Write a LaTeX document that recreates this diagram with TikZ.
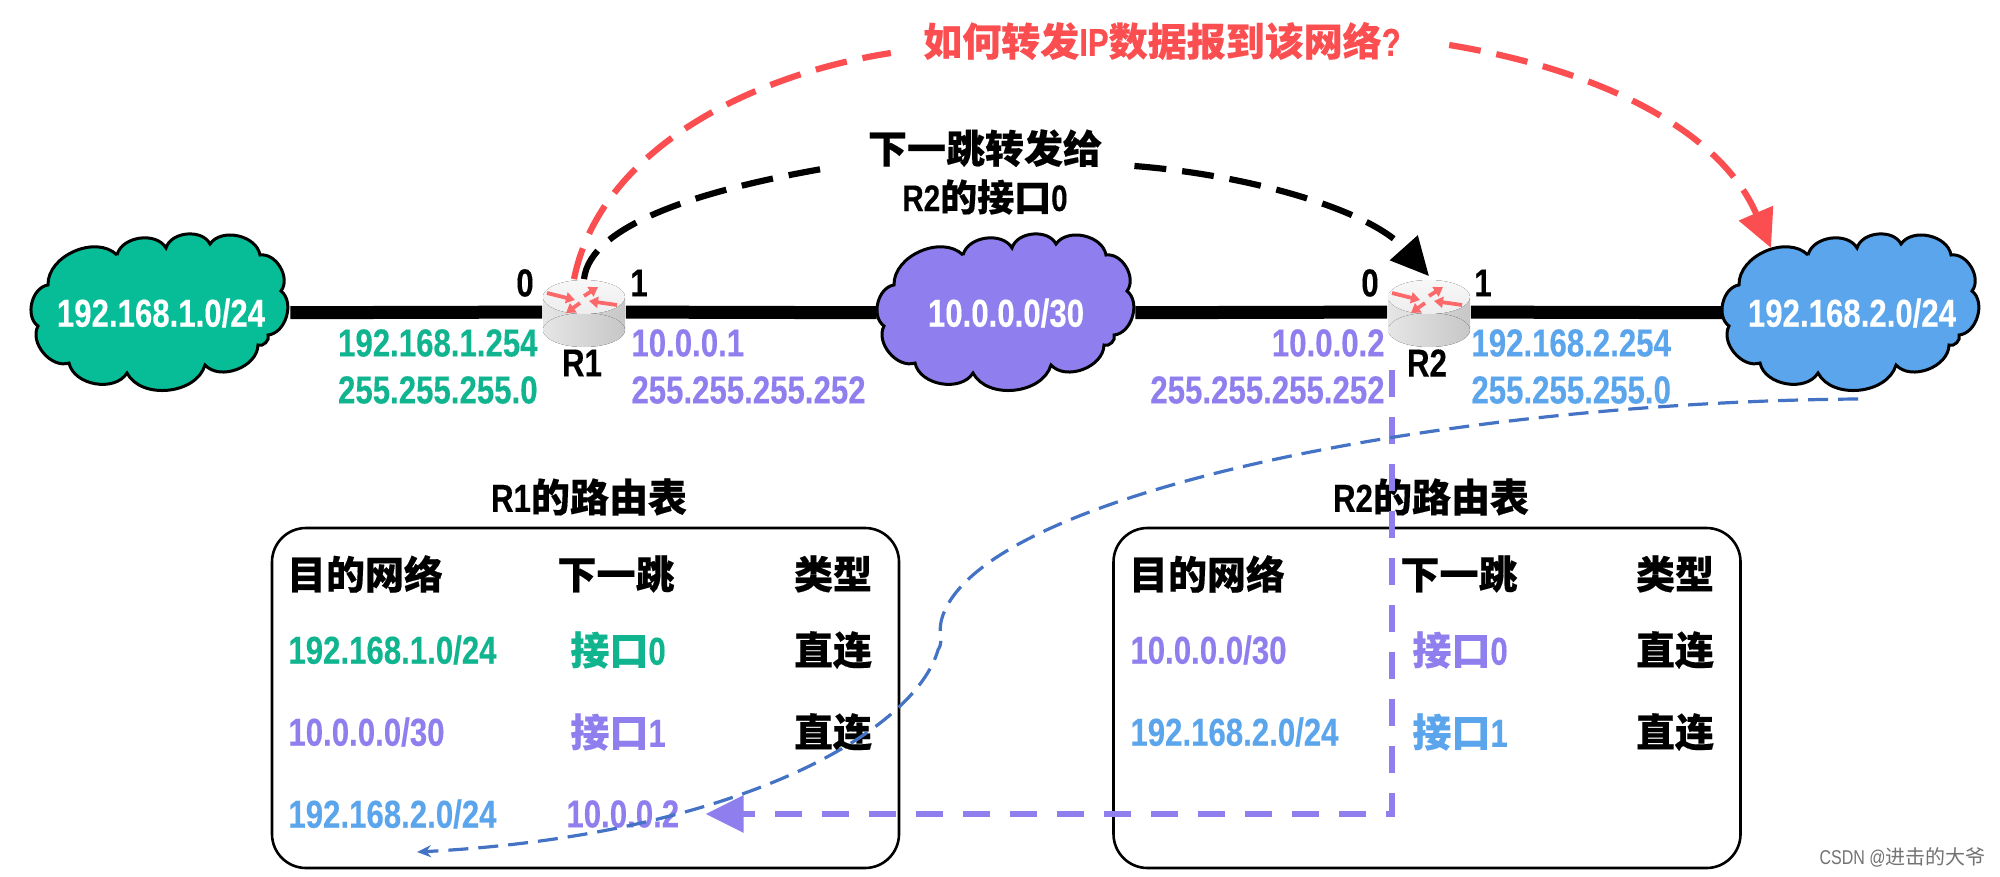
\documentclass[tikz,border=0pt]{standalone}
\usepackage{fontspec}
\setmainfont[FakeStretch=0.8,BoldFeatures={FakeBold=0.25}]{Liberation Sans}
\newfontfamily\cjkf[BoldFeatures={FakeBold=0.35}]{Noto Sans CJK SC}
\newcommand{\Cn}[1]{{\cjkf #1}}
\usetikzlibrary{arrows.meta,backgrounds}
\definecolor{gr}{HTML}{06BD98}
\definecolor{grt}{HTML}{10B58F}
\definecolor{pu}{HTML}{8F7FEE}
\definecolor{bl}{HTML}{5AA5EC}
\definecolor{dbl}{HTML}{4472C4}
\definecolor{rd}{HTML}{FB4E50}
\tikzset{
  txt/.style={inner sep=0pt,font=\fontsize{19.5}{23}\selectfont\bfseries,align=center},
  netnode/.style={txt,text=white,minimum width=129pt,minimum height=77pt},
  routernode/.style={inner sep=0pt,minimum width=41.5pt,minimum height=32.5pt},
  wire/.style={line width=6.5pt},
  cloudline/.style={draw=black,line width=1.5pt},
  tablebox/.style={draw=black,line width=1.3pt,rounded corners=17pt},
  bigdash/.style={line width=3.1pt,dash pattern=on 16pt off 8pt},
  tip/.style={-{Triangle[length=19pt,width=18pt]}}
}
\newcommand{\cloudat}[2]{%
  \begin{scope}[xshift=#1*0.5pt]
  \draw[cloudline,fill=#2,bend left=68] (117,255) to (166,248) to (210,244) to (260,255) to (281,291) to (268,335) to (258,345) to (205,365) to (127,373) to (69,363) to (38,326) to (48,285) to (117,255);
  \end{scope}}
\newcommand{\routerdraw}[1]{%
  \begin{scope}[xshift=#1*0.5pt]
  \fill[left color=black!10,right color=black!22] (-41,297) rectangle (41,330);
  \fill[left color=black!10,right color=black!22] (0,330) ellipse[x radius=41,y radius=17];
  \fill[top color=black!3,bottom color=black!7] (0,297) ellipse[x radius=41,y radius=17];
  \foreach \a/\b/\c/\d in {-37/293/-9/300,0/296/14/287,33/305/5/301,-4/303/-18/313}
    \draw[rd!85!white,line width=1.9pt,-{Triangle[length=4.5pt,width=5.5pt]}] (\a,\b) -- (\c,\d);
  \end{scope}}
\begin{document}
\begin{tikzpicture}[x=0.5pt,y=-0.5pt]
\useasboundingbox (0,0) rectangle (2000,877);
% network and router nodes
\node[netnode] (c1) at (161,313) {192.168.1.0/24};
\node[netnode] (c2) at (1006,313) {10.0.0.0/30};
\node[netnode] (c3) at (1852,313) {192.168.2.0/24};
\node[routernode] (r1) at (584,312) {};
\node[routernode] (r2) at (1429,312) {};
% interface numbers
\node[txt] (p10) at (525,283) {0};
\node[txt] (p11) at (639,283) {1};
\node[txt] (p20) at (1370,283) {0};
\node[txt] (p21) at (1483,283) {1};
\node[txt] (n1) at (582,363) {R1};
\node[txt] (n2) at (1427,363) {R2};
% addresses
\node[txt,text=grt,anchor=east] (a1) at (538,343) {192.168.1.254};
\node[txt,text=grt,anchor=east] (a2) at (538,390) {255.255.255.0};
\node[txt,text=pu,anchor=west] (a3) at (631,343) {10.0.0.1};
\node[txt,text=pu,anchor=west] (a4) at (631,390) {255.255.255.252};
\node[txt,text=pu,anchor=east] (a5) at (1385,343) {10.0.0.2};
\node[txt,text=pu,anchor=east] (a6) at (1385,390) {255.255.255.252};
\node[txt,text=bl,anchor=west] (a7) at (1471,343) {192.168.2.254};
\node[txt,text=bl,anchor=west] (a8) at (1471,390) {255.255.255.0};
% top labels
\node[txt,text=rd] (q) at (1162,41) {\Cn{如何转发}IP\Cn{数据报到该网络}?};
\node[txt] (nh) at (985,172) {\Cn{下一跳转发给}\\[1pt]{\fontsize{18.5}{20}\selectfont R2\Cn{的接口}0}};
% tables
\node[tablebox,minimum width=313.5pt,minimum height=170pt] (t1) at (585.5,698) {};
\node[tablebox,minimum width=313.5pt,minimum height=170pt] (t2) at (1427,698) {};
\node[txt] (t1t) at (589,497) {R1\Cn{的路由表}};
\node[txt] (t2t) at (1431,497) {R2\Cn{的路由表}};
\node[txt] (h11) at (365,574) {\Cn{目的网络}};
\node[txt] (h12) at (616,574) {\Cn{下一跳}};
\node[txt] (h13) at (833,574) {\Cn{类型}};
\node[txt] (h21) at (1207,574) {\Cn{目的网络}};
\node[txt] (h22) at (1459,574) {\Cn{下一跳}};
\node[txt] (h23) at (1675,574) {\Cn{类型}};
\node[txt,text=grt,anchor=west] (d11) at (288,650) {192.168.1.0/24};
\node[txt,text=pu,anchor=west] (d12) at (288,732) {10.0.0.0/30};
\node[txt,text=bl,anchor=west] (d13) at (288,814) {192.168.2.0/24};
\node[txt,text=grt,anchor=west] (i11) at (570,650) {\Cn{接口}0};
\node[txt,text=pu,anchor=west] (i12) at (570,732) {\Cn{接口}1};
\node[txt,text=pu,anchor=west] (i13) at (566,814) {10.0.0.2};
\node[txt] (k11) at (833,650) {\Cn{直连}};
\node[txt] (k12) at (833,732) {\Cn{直连}};
\node[txt,text=pu,anchor=west] (d21) at (1130,650) {10.0.0.0/30};
\node[txt,text=bl,anchor=west] (d22) at (1130,732) {192.168.2.0/24};
\node[txt,text=pu,anchor=west] (i21) at (1412,650) {\Cn{接口}0};
\node[txt,text=bl,anchor=west] (i22) at (1412,732) {\Cn{接口}1};
\node[txt] (k21) at (1675,650) {\Cn{直连}};
\node[txt] (k22) at (1675,732) {\Cn{直连}};
\node[inner sep=0pt,text=black!55,anchor=east,font=\fontsize{10}{12}\selectfont] (wm) at (1986,857) {CSDN @\Cn{进击的大爷}};
% connectors
\coordinate (redend) at (1771,248);
\coordinate (pstart) at (1392,370);
\coordinate (bstart) at (1858,399);
\coordinate (bend) at (417,852);
\begin{scope}[on background layer]
  \fill[white] (0,0) rectangle (2000,877);
  \draw[wire] (c1) -- (r1);
  \draw[wire] (r1) -- (c2);
  \draw[wire] (c2) -- (r2);
  \draw[wire] (r2) -- (c3);
  \cloudat{0}{gr}
  \cloudat{846}{pu}
  \cloudat{1691}{bl}
  \draw[rd,bigdash,tip] ([xshift=24pt,yshift=-2pt]q.east) .. controls (1600,70) and (1720,130) .. (redend);
  \draw[rd,bigdash] ([xshift=-5pt]r1.north) .. controls (600,150) and (750,75) .. ([xshift=-16pt,yshift=-6pt]q.west);
  \draw[black,bigdash] (r1.north) .. controls (590,225) and (700,190) .. ([xshift=-20pt,yshift=2pt]nh.west);
  \draw[black,bigdash,tip] ([xshift=16pt,yshift=3pt]nh.east) .. controls (1250,175) and (1370,210) .. ([yshift=1.5pt]r2.north);
  \routerdraw{584}
  \routerdraw{1429}
\end{scope}
\draw[pu,line width=3pt,dash pattern=on 13.5pt off 10pt,tip,shorten >=13pt] (pstart) |- (i13.east);
\draw[dbl,line width=1.6pt,dash pattern=on 10pt off 5pt,-{Stealth[length=7pt,width=6pt]}]
  (bstart) .. controls (1450,402) and (1000,490) .. (945,610)
  .. controls (935,632) and (945,640) .. (938,650)
  .. controls (915,730) and (740,835) .. (bend);
\end{tikzpicture}
\end{document}
